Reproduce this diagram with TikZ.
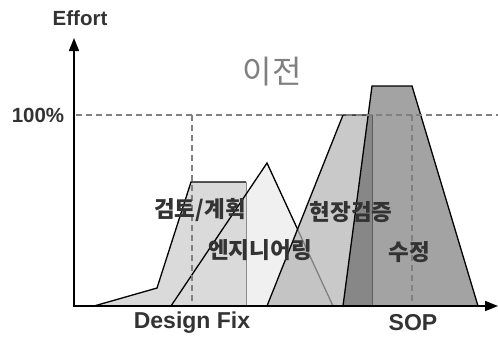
\documentclass[tikz,border=0pt]{standalone}
\usepackage{fontspec}
\setmainfont{Liberation Sans}
\newfontfamily\kr{Noto Sans CJK KR}
\usetikzlibrary{arrows.meta}
\definecolor{reviewc}{HTML}{DADADA}
\definecolor{engc}{HTML}{F0F0F0}
\definecolor{fieldc}{HTML}{B4B4B4}
\definecolor{fixc}{HTML}{474747}
\definecolor{labc}{HTML}{333333}
\tikzset{
  shapeline/.style={draw=black, line width=1.3pt, line join=miter},
  guide/.style={draw=black!50, line width=1.1pt, dash pattern=on 6pt off 4pt},
  axisline/.style={draw=black, line width=1.6pt, -{Triangle[length=13pt,width=10pt]}},
  axlab/.style={font=\bfseries\fontsize{20.5}{20.5}\selectfont, text=labc, inner sep=0pt},
  bottomlab/.style={font=\bfseries\fontsize{23}{23}\selectfont, text=labc, inner sep=0pt},
  krlab/.style={font=\kr\bfseries\fontsize{22.5}{22.5}\selectfont, text=labc, inner sep=0pt},
}
\begin{document}
\begin{tikzpicture}[x=1pt,y=-1pt]
\useasboundingbox (0,0) rectangle (498,338);
% engineering triangle
\fill[engc] (171,306) -- (267,163) -- (333,306) -- cycle;
% review/plan
\fill[reviewc] (94,306) -- (157,288) -- (191,182) -- (246,182) -- (246,306) -- cycle;
\draw[shapeline] (94,306) -- (157,288) -- (191,182) -- (246,182);
\draw[draw=black!45, line width=1pt] (246,182) -- (246,306);
\draw[shapeline] (171,306) -- (267,163) -- (333,306);
% field verification
\fill[fieldc, fill opacity=0.72] (267,306) -- (343,115) -- (372,115) -- (372,306) -- cycle;
\draw[shapeline] (267,306) -- (343,115) -- (372,115);
\draw[draw=black!55, line width=1pt] (372,115) -- (372,306);
% fix
\fill[fixc, fill opacity=0.5] (343,306) -- (372,86) -- (412,86) -- (478,306) -- cycle;
\draw[shapeline] (343,306) -- (372,86) -- (412,86) -- (478,306);
% guides
\draw[guide] (76,115) -- (498,115);
\draw[guide] (192,115) -- (192,306);
\draw[guide] (412,115) -- (412,306);
% axes
\draw[axisline] (74,306) -- (74,38);
\draw[axisline] (73.2,306) -- (498,306);
% labels
\node[axlab] (effort) at (80,18) {Effort};
\node[axlab] (pct) at (38,115) {100\%};
\node[bottomlab] (design) at (192,323) {Design Fix};
\node[bottomlab] (sop) at (413,323) {SOP};
\node[font=\kr\fontsize{32}{32}\selectfont, text=black!50, inner sep=0pt] (old) at (272,72) {이전};
\node[krlab] (review) at (200,210) {검토/계획};
\node[krlab] (eng) at (260,250) {엔지니어링};
\node[krlab] (field) at (351,212) {현장검증};
\node[krlab] (fix) at (409,252) {수정};
\end{tikzpicture}
\end{document}
